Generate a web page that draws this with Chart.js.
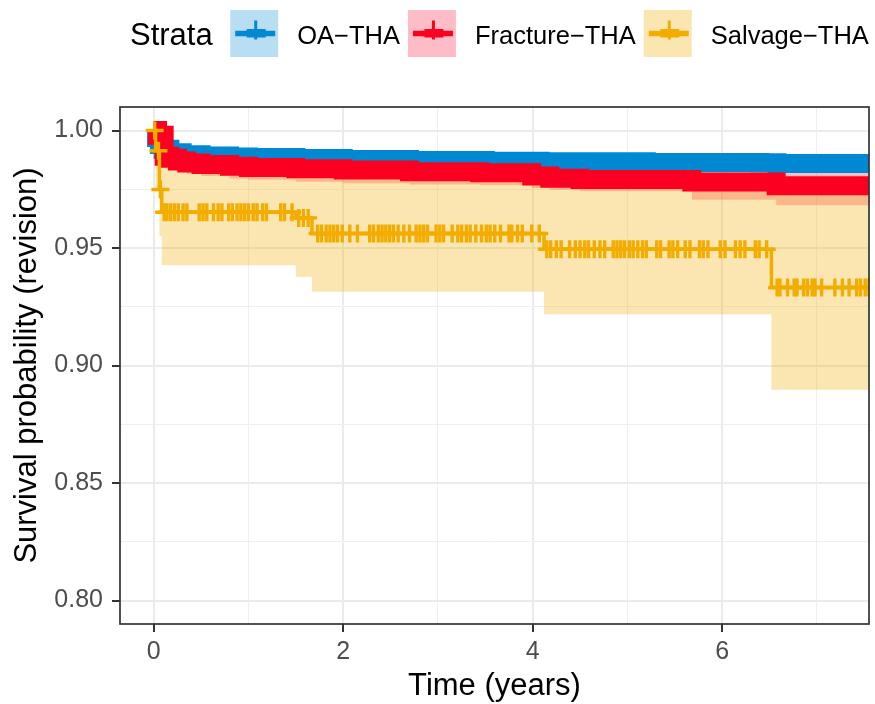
<!DOCTYPE html>
<html><head><meta charset="utf-8">
<script src="https://cdn.jsdelivr.net/npm/chart.js@4"></script>
<style>html,body{margin:0;padding:0;background:#fff}canvas{display:block}</style>
</head><body>
<canvas id="c" width="875" height="704"></canvas>
<script>
// ---------- data ----------
const strata = ['OA\u2212THA', 'Fracture\u2212THA', 'Salvage\u2212THA'];
const lineColors = ['#0088D3', '#FC0022', '#F3AC00'];
const bandColors = ['rgba(0,136,211,0.28)', 'rgba(252,0,34,0.26)', 'rgba(243,172,0,0.30)'];

const oaTime  = [0, 0.03, 0.06, 0.10, 0.17, 0.30, 0.50, 0.80, 1.00, 1.50, 2.00, 2.70, 3.50, 4.08, 5.20, 6.40, 6.58, 7.60];
const oaSurv  = [1.000, 0.9970, 0.9940, 0.9920, 0.9905, 0.9897, 0.9892, 0.9887, 0.9885, 0.9881, 0.9877, 0.9872, 0.9869, 0.9867, 0.9864, 0.9863, 0.9860, 0.9860];
const oaLower = [1.000, 0.9965, 0.9935, 0.9915, 0.9899, 0.9891, 0.9886, 0.9881, 0.9879, 0.9875, 0.9871, 0.9865, 0.9862, 0.9860, 0.9856, 0.9855, 0.9851, 0.9851];
const oaUpper = [1.000, 0.9975, 0.9945, 0.9925, 0.9911, 0.9903, 0.9898, 0.9893, 0.9891, 0.9887, 0.9883, 0.9879, 0.9876, 0.9874, 0.9872, 0.9871, 0.9869, 0.9869];

const frTime  = [0, 0.04, 0.11, 0.17, 0.25, 0.35, 0.50, 0.80, 1.00, 1.50, 2.00, 2.70, 3.44, 3.99, 4.18, 4.50, 5.68, 6.57, 7.60];
const frSurv  = [1.000, 0.9980, 0.9890, 0.9882, 0.9870, 0.9862, 0.9855, 0.9848, 0.9843, 0.9837, 0.9832, 0.9825, 0.9820, 0.9806, 0.9797, 0.9792, 0.9781, 0.9765, 0.9765];
const frLower = [1.000, 0.9955, 0.9850, 0.9838, 0.9825, 0.9815, 0.9806, 0.9796, 0.9790, 0.9782, 0.9776, 0.9770, 0.9767, 0.9755, 0.9748, 0.9742, 0.9705, 0.9682, 0.9682];
const frUpper = [1.000, 0.9995, 0.9925, 0.9920, 0.9908, 0.9900, 0.9894, 0.9888, 0.9884, 0.9879, 0.9875, 0.9869, 0.9865, 0.9852, 0.9843, 0.9839, 0.9830, 0.9822, 0.9822];

const svTime  = [0, 0.02, 0.06, 0.085, 1.50, 1.67, 4.12, 6.52, 7.60];
const svSurv  = [1.000, 0.9914, 0.9749, 0.9652, 0.9628, 0.9562, 0.9495, 0.9332, 0.9332];
const svLower = [1.000, 0.9750, 0.9550, 0.9427, 0.9378, 0.9314, 0.9218, 0.8897, 0.8897];
const svUpper = [1.000, 0.9990, 0.9920, 0.9870, 0.9860, 0.9840, 0.9800, 0.9770, 0.9770];

// censoring times (+ marks) of the Salvage-THA stratum
const svCensor = [0.01, 0.05, 0.07,
  0.11,0.14,0.18,0.22,0.26,0.31,0.35,0.48,0.52,0.56,0.63,0.68,0.72,0.79,0.83,0.88,0.92,0.96,1.00,1.05,1.09,1.15,1.19,1.34,1.38,1.46,
  1.53,1.58,1.63,
  1.73,1.77,1.82,1.86,1.90,1.94,1.99,2.07,2.15,2.28,2.32,2.37,2.41,2.45,2.49,2.53,2.58,2.64,2.70,2.77,2.81,2.85,2.89,2.98,3.02,3.06,3.15,3.21,3.25,3.30,3.34,3.40,3.46,3.51,3.55,3.60,3.66,3.75,3.78,3.84,3.89,3.99,4.07,
  4.15,4.19,4.25,4.30,4.39,4.45,4.50,4.55,4.59,4.65,4.71,4.76,4.85,4.89,4.93,4.97,5.02,5.06,5.11,5.16,5.20,5.31,5.35,5.44,5.48,5.53,5.61,5.66,5.76,5.80,5.85,5.98,6.03,6.14,6.19,6.24,6.35,6.39,6.47,
  6.58,6.61,6.69,6.76,6.79,6.86,6.90,6.95,6.98,7.05,7.19,7.27,7.34,7.42,7.46,7.51,7.55];

const xTicks = [0, 1, 2, 3, 4, 5, 6, 7];
const xTickLabels = ['0', '', '2', '', '4', '', '6', ''];
const yTicks = [0.800, 0.825, 0.850, 0.875, 0.900, 0.925, 0.950, 0.975, 1.000];
const yTickLabels = ['0.80', '', '0.85', '', '0.90', '', '0.95', '', '1.00'];

// ---------- helpers ----------
const pts = (T, S) => T.map((t, i) => ({x: t, y: S[i]}));
function survAt(T, S, t) { let v = S[0]; for (let i = 0; i < T.length; i++) if (T[i] <= t) v = S[i]; return v; }
const censorPts = svCensor.map(t => ({x: t, y: survAt(svTime, svSurv, t)}));

const FONT = '"Liberation Sans", Arial, Helvetica, sans-serif';
Chart.defaults.font.family = FONT;

function upperBand(T, U, order, color) {
  return {data: pts(T, U), stepped: true, fill: '+1', backgroundColor: color, borderColor: 'rgba(0,0,0,0)', borderWidth: 0, pointRadius: 0, order: order, clip: 0};
}
function lowerBand(T, L, order) {
  return {data: pts(T, L), stepped: true, fill: false, borderColor: 'rgba(0,0,0,0)', borderWidth: 0, pointRadius: 0, order: order, clip: 0};
}

const datasets = [
  upperBand(oaTime, oaUpper, 10, bandColors[0]), lowerBand(oaTime, oaLower, 10),
  upperBand(frTime, frUpper, 9, bandColors[1]), lowerBand(frTime, frLower, 9),
  upperBand(svTime, svUpper, 8, bandColors[2]), lowerBand(svTime, svLower, 8),
  {label: strata[0], data: pts(oaTime, oaSurv), stepped: true, fill: false, borderColor: lineColors[0], borderWidth: 19, borderJoinStyle: 'miter', borderCapStyle: 'butt', pointRadius: 0, order: 3, clip: 0},
  {label: strata[1], data: pts(frTime, frSurv), stepped: true, fill: false, borderColor: lineColors[1], borderWidth: 19, borderJoinStyle: 'miter', borderCapStyle: 'butt', pointRadius: 0, order: 2, clip: 0},
  {label: strata[2], data: pts(svTime, svSurv), stepped: true, fill: false, borderColor: lineColors[2], borderWidth: 3.5, borderJoinStyle: 'miter', pointRadius: 0, order: 1, clip: 0},
  {label: strata[2] + ' censored', data: censorPts, showLine: false, pointStyle: 'cross', pointRadius: 9, pointBorderWidth: 3.4, pointBorderColor: lineColors[2], pointBackgroundColor: lineColors[2], order: 0, clip: 0}
];

const isMajorX = i => xTickLabels[i] !== '';
const isMajorY = i => yTickLabels[i] !== '';

const deco = {
  id: 'deco',
  afterDatasetsDraw(chart) {
    const {ctx, chartArea: a} = chart;
    ctx.save();
    ctx.strokeStyle = '#333333';
    ctx.lineWidth = 1.7;
    ctx.strokeRect(a.left, a.top, a.right - a.left, a.bottom - a.top);
    ctx.restore();
  },
  afterDraw(chart) {
    const ctx = chart.ctx;
    ctx.save();
    ctx.fillStyle = '#000';
    ctx.textBaseline = 'alphabetic';
    ctx.textAlign = 'left';
    ctx.font = '31px ' + FONT;
    ctx.fillText('Strata', 130, 45);
    let x = 130 + ctx.measureText('Strata').width + 17.5;
    ctx.font = '25.5px ' + FONT;
    const boxW = 48, boxTop = 10, boxH = 47, cy = 33.5;
    for (let i = 0; i < strata.length; i++) {
      ctx.fillStyle = '#fff';
      ctx.fillRect(x, boxTop, boxW, boxH);
      ctx.fillStyle = bandColors[i];
      ctx.fillRect(x, boxTop, boxW, boxH);
      ctx.strokeStyle = lineColors[i];
      ctx.lineCap = 'butt';
      ctx.lineWidth = 5.5;
      ctx.beginPath(); ctx.moveTo(x + 5, cy); ctx.lineTo(x + 45, cy); ctx.stroke();
      ctx.fillStyle = lineColors[i];
      ctx.fillRect(x + 16.5, cy - 4.5, 19, 8.5);
      ctx.lineWidth = 3;
      ctx.beginPath(); ctx.moveTo(x + 25.5, cy - 13); ctx.lineTo(x + 25.5, cy + 6); ctx.stroke();
      ctx.fillStyle = '#000';
      ctx.fillText(strata[i], x + boxW + 19, 44);
      x += boxW + 19 + ctx.measureText(strata[i]).width + 8;
    }
    ctx.restore();
  }
};

new Chart(document.getElementById('c'), {
  type: 'line',
  data: {datasets},
  plugins: [deco],
  options: {
    responsive: false,
    animation: false,
    events: [],
    layout: {autoPadding: false, padding: {top: 107, right: 6, left: 0, bottom: 0}},
    plugins: {legend: {display: false}, tooltip: {enabled: false}},
    scales: {
      x: {
        type: 'linear', min: -0.356, max: 7.55,
        afterBuildTicks: s => { s.ticks = xTicks.map(v => ({value: v})); },
        afterFit: s => { s.height = 80; s.paddingRight = 0; },
        ticks: {callback: (v, i) => xTickLabels[i], font: {size: 25}, color: '#4D4D4D', padding: 5, maxRotation: 0, autoSkip: false},
        grid: {
          color: c => isMajorX(c.index) ? '#EBEBEB' : '#EFEFEF',
          lineWidth: c => isMajorX(c.index) ? 2 : 1,
          tickColor: c => isMajorX(c.index) ? '#333333' : 'rgba(0,0,0,0)',
          tickWidth: 2, tickLength: 8, drawTicks: true
        },
        border: {display: false},
        title: {display: true, text: 'Time (years)', color: '#000', font: {size: 31, lineHeight: 1.1}, padding: {top: 0, bottom: 0}}
      },
      y: {
        type: 'linear', min: 0.79, max: 1.01,
        afterBuildTicks: s => { s.ticks = yTicks.map(v => ({value: v})); },
        afterFit: s => { s.width = 120; },
        ticks: {callback: (v, i) => yTickLabels[i], font: {size: 25}, color: '#4D4D4D', padding: 9, autoSkip: false},
        grid: {
          color: c => isMajorY(c.index) ? '#EBEBEB' : '#EFEFEF',
          lineWidth: c => isMajorY(c.index) ? 2 : 1,
          tickColor: c => isMajorY(c.index) ? '#333333' : 'rgba(0,0,0,0)',
          tickWidth: 2, tickLength: 8, drawTicks: true
        },
        border: {display: false},
        title: {display: true, text: 'Survival probability (revision)', color: '#000', font: {size: 31, lineHeight: 1.1}, padding: {top: 10, bottom: 0}}
      }
    }
  }
});
</script>
</body></html>
